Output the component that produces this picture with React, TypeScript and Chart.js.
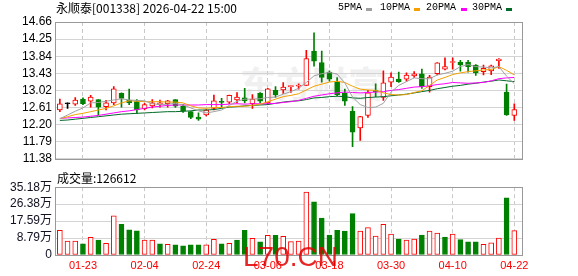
import React, { useEffect, useRef } from 'react';
import { Chart, registerables } from 'chart.js';

Chart.register(...registerables);

// ---------------- data ----------------
const dates = [
  '01-20', '01-21', '01-22', '01-23', '01-26', '01-27', '01-28', '01-29', '01-30',
  '02-02', '02-03', '02-04', '02-05', '02-06', '02-09', '02-10', '02-11', '02-12', '02-13',
  '02-24', '02-25', '02-26', '02-27', '03-02', '03-03', '03-04', '03-05', '03-06',
  '03-09', '03-10', '03-11', '03-12', '03-13', '03-16', '03-17', '03-18', '03-19', '03-20',
  '03-23', '03-24', '03-25', '03-26', '03-27', '03-30', '03-31', '04-01', '04-02', '04-03',
  '04-07', '04-08', '04-09', '04-10', '04-13', '04-14', '04-15', '04-16', '04-17',
  '04-20', '04-21', '04-22',
];
const xTickDates = ['01-23', '02-04', '02-24', '03-06', '03-18', '03-30', '04-10', '04-22'];

const openP = [
  12.55, 12.70, 12.69, 12.81, 12.76, 12.80, 12.63, 12.72, 12.95, 12.78,
  12.75, 12.58, 12.65, 12.68, 12.70, 12.80, 12.64, 12.51, 12.38, 12.43,
  12.59, 12.76, 12.74, 12.79, 12.84, 12.70, 12.95, 12.72, 13.02, 13.03,
  13.11, 13.12, 13.14, 13.96, 13.69, 13.46, 13.22, 12.95, 12.52, 12.12,
  12.42, 13.01, 12.85, 13.22, 13.29, 13.29, 13.37, 13.42, 13.11, 13.42,
  13.53, 13.69, 13.70, 13.70, 13.63, 13.47, 13.49, 13.73, 12.98, 12.42,
];
const highP = [
  12.81, 12.72, 12.85, 12.84, 12.90, 12.80, 12.78, 13.11, 12.96, 13.05,
  12.80, 12.71, 12.80, 12.79, 12.78, 12.80, 12.68, 12.51, 12.48, 12.56,
  12.91, 12.83, 12.91, 12.97, 13.07, 12.92, 12.97, 13.07, 13.11, 13.21,
  13.13, 13.18, 13.98, 14.40, 13.96, 13.49, 13.33, 13.05, 12.63, 12.40,
  13.02, 13.18, 13.49, 13.44, 13.46, 13.44, 13.47, 13.53, 13.38, 13.69,
  13.80, 13.80, 13.74, 13.74, 13.64, 13.63, 13.63, 13.78, 13.17, 12.70,
];
const lowP = [
  12.51, 12.59, 12.66, 12.68, 12.62, 12.43, 12.55, 12.68, 12.62, 12.68,
  12.47, 12.55, 12.60, 12.62, 12.62, 12.61, 12.49, 12.34, 12.30, 12.41,
  12.55, 12.62, 12.70, 12.72, 12.72, 12.59, 12.72, 12.68, 12.85, 12.95,
  12.97, 13.05, 13.14, 13.60, 13.22, 13.24, 12.89, 12.66, 11.67, 11.82,
  12.37, 12.87, 12.78, 13.11, 13.21, 13.24, 13.33, 13.07, 12.98, 13.39,
  13.51, 13.53, 13.48, 13.46, 13.38, 13.39, 13.40, 13.55, 12.42, 12.30,
];
const closeP = [
  12.70, 12.70, 12.79, 12.70, 12.86, 12.62, 12.72, 13.06, 12.83, 12.72,
  12.55, 12.68, 12.72, 12.72, 12.77, 12.64, 12.52, 12.37, 12.33, 12.55,
  12.77, 12.73, 12.90, 12.86, 12.77, 12.81, 12.76, 13.06, 12.91, 13.10,
  13.12, 13.14, 13.78, 13.72, 13.33, 13.29, 12.92, 12.76, 12.02, 12.39,
  12.96, 12.99, 13.20, 13.34, 13.23, 13.39, 13.42, 13.11, 13.34, 13.68,
  13.59, 13.70, 13.63, 13.59, 13.44, 13.55, 13.61, 13.77, 12.43, 12.56,
];

const ma5 = [
  12.34, 12.43, 12.52, 12.60, 12.72, 12.73, 12.76, 12.79, 12.82, 12.79,
  12.78, 12.77, 12.70, 12.68, 12.69, 12.71, 12.67, 12.60, 12.53, 12.48,
  12.51, 12.55, 12.66, 12.76, 12.81, 12.81, 12.82, 12.85, 12.86, 12.93,
  12.99, 13.07, 13.21, 13.37, 13.42, 13.45, 13.41, 13.20, 12.86, 12.68,
  12.61, 12.62, 12.71, 12.98, 13.14, 13.23, 13.32, 13.30, 13.30, 13.39,
  13.43, 13.48, 13.59, 13.64, 13.59, 13.58, 13.56, 13.59, 13.36, 13.18,
];
const ma10 = [
  12.34, 12.39, 12.44, 12.47, 12.51, 12.55, 12.59, 12.65, 12.72, 12.77,
  12.76, 12.75, 12.75, 12.75, 12.74, 12.74, 12.72, 12.65, 12.60, 12.59,
  12.61, 12.61, 12.63, 12.64, 12.64, 12.66, 12.69, 12.75, 12.81, 12.87,
  12.90, 12.94, 13.03, 13.12, 13.17, 13.22, 13.24, 13.21, 13.12, 13.05,
  13.03, 13.02, 12.96, 12.92, 12.91, 12.92, 12.97, 13.01, 13.14, 13.27,
  13.33, 13.40, 13.44, 13.47, 13.49, 13.51, 13.52, 13.59, 13.50, 13.39,
];
const ma20 = [
  12.35, 12.36, 12.37, 12.38, 12.40, 12.42, 12.45, 12.48, 12.51, 12.53,
  12.56, 12.59, 12.62, 12.64, 12.66, 12.67, 12.67, 12.67, 12.67, 12.68,
  12.68, 12.68, 12.69, 12.70, 12.69, 12.70, 12.70, 12.70, 12.71, 12.73,
  12.75, 12.78, 12.83, 12.88, 12.91, 12.94, 12.96, 12.98, 12.97, 12.96,
  12.97, 12.98, 12.99, 13.02, 13.04, 13.07, 13.10, 13.11, 13.13, 13.16,
  13.18, 13.21, 13.20, 13.19, 13.20, 13.21, 13.25, 13.30, 13.32, 13.33,
];
const ma30 = [
  12.30, 12.31, 12.33, 12.35, 12.37, 12.39, 12.41, 12.43, 12.45, 12.46,
  12.47, 12.48, 12.49, 12.50, 12.51, 12.51, 12.52, 12.53, 12.55, 12.55,
  12.56, 12.59, 12.62, 12.63, 12.65, 12.66, 12.67, 12.68, 12.71, 12.74,
  12.76, 12.77, 12.80, 12.84, 12.85, 12.87, 12.88, 12.87, 12.84, 12.83,
  12.85, 12.86, 12.87, 12.89, 12.91, 12.93, 12.96, 12.99, 13.02, 13.06,
  13.09, 13.12, 13.14, 13.17, 13.19, 13.22, 13.24, 13.27, 13.25, 13.23,
];

// volume in 万 (10k)
const volume = [
  12.85, 7.27, 7.27, 5.75, 9.13, 7.78, 6.09, 20.30, 15.90, 13.02,
  12.52, 7.78, 7.78, 5.75, 5.58, 5.24, 4.74, 5.24, 5.24, 5.24,
  8.12, 5.75, 6.09, 7.78, 12.85, 8.63, 6.77, 10.15, 10.15, 9.64,
  6.93, 7.27, 32.64, 27.57, 19.11, 10.32, 12.85, 12.35, 21.48, 12.35,
  14.21, 9.81, 15.90, 10.82, 8.29, 7.78, 8.29, 10.32, 12.35, 11.33,
  9.30, 10.82, 7.95, 6.77, 6.77, 5.58, 6.26, 8.79, 29.60, 12.66,
];
const volUp = [
  'r', 'r', 'r', 'g', 'r', 'g', 'r', 'r', 'g', 'g',
  'g', 'r', 'r', 'g', 'r', 'g', 'g', 'g', 'g', 'r',
  'r', 'g', 'r', 'g', 'g', 'r', 'g', 'r', 'g', 'r',
  'r', 'r', 'r', 'g', 'g', 'g', 'g', 'g', 'g', 'r',
  'r', 'r', 'r', 'r', 'g', 'r', 'r', 'g', 'r', 'r',
  'g', 'r', 'g', 'g', 'g', 'r', 'r', 'r', 'g', 'r',
];

const priceTicks = ['11.38', '11.79', '12.20', '12.61', '13.02', '13.43', '13.84', '14.25', '14.66'];
const volTickValues = [0, 8.795, 17.59, 26.385, 35.18];
const volTickLabels = ['0', '8.79万', '17.59万', '26.38万', '35.18万'];

const legendItems = ['5PMA', '10PMA', '20PMA', '30PMA'];

// ---------------- styles ----------------
const RED = '#ff0000';
const GREEN = '#008000';
const MA_COLORS = ['#a0a0a0', '#f5a000', '#ff00ff', '#006a28'];
const AXIS_FONT = '"Liberation Sans", Arial, "Noto Sans CJK SC", sans-serif';
const CJK_FONT = '"Noto Sans CJK SC", "Liberation Sans", sans-serif';
const FRAME = '#999999';
const HGRID = '#d4d4d4';
const VGRID = '#c8c8c8';

const framePlugin = {
  id: 'frame',
  afterDatasetsDraw(chart: any) {
    const { ctx, chartArea } = chart;
    const l = Math.round(chartArea.left) - 0.5;
    const t = Math.round(chartArea.top) + 0.5;
    const r = Math.round(chartArea.right) + 0.5;
    const b = Math.round(chartArea.bottom) + 0.5;
    ctx.save();
    ctx.strokeStyle = FRAME;
    ctx.lineWidth = 1;
    ctx.strokeRect(l, t, r - l, b - t);
    ctx.restore();
  },
};

const xTickIdx = xTickDates.map((d) => dates.indexOf(d));

export default function App() {
  const priceRef = useRef<HTMLCanvasElement | null>(null);
  const volRef = useRef<HTMLCanvasElement | null>(null);

  useEffect(() => {
    const candleColor = closeP.map((c, i) => (c > openP[i] ? RED : c < openP[i] ? GREEN : '#000000'));
    const maSets = [ma5, ma10, ma20, ma30].map((arr, k) => ({
      type: 'line' as const,
      data: arr.map((v, i) => ({ x: i, y: v })),
      borderColor: MA_COLORS[k],
      borderWidth: 1,
      pointRadius: 0,
      tension: 0,
      order: 0,
    }));

    const price = new Chart(priceRef.current as HTMLCanvasElement, {
      data: {
        datasets: [
          ...maSets,
          {
            type: 'bar' as const,
            data: openP.map((o, i) => ({ x: i, y: [o, closeP[i]] })),
            backgroundColor: candleColor.map((c) => (c === RED ? '#ffffff' : c)),
            borderColor: candleColor,
            borderWidth: 1,
            borderSkipped: false,
            barThickness: 5,
            minBarLength: 1,
            grouped: false,
            order: 1,
          },
          {
            type: 'bar' as const,
            data: lowP.map((l, i) => ({ x: i, y: [l, highP[i]] })),
            backgroundColor: candleColor,
            borderWidth: 0,
            barThickness: 1,
            grouped: false,
            order: 2,
          },
        ] as any,
      },
      options: {
        animation: false,
        responsive: false,
        maintainAspectRatio: false,
        layout: { padding: { left: 0, right: 56, top: 22, bottom: 5 } },
        plugins: { legend: { display: false }, tooltip: { enabled: false } },
        scales: {
          x: {
            type: 'linear',
            min: -0.5,
            max: 60,
            offset: false,
            afterBuildTicks: (s: any) => {
              s.ticks = xTickIdx.map((v) => ({ value: v }));
            },
            afterFit: (s: any) => {
              s.height = 0;
            },
            ticks: { display: false },
            grid: { color: VGRID, drawTicks: false, offset: false },
            border: { display: false, dash: [4, 3] },
          },
          y: {
            type: 'linear',
            min: 11.38,
            max: 14.66,
            afterBuildTicks: (s: any) => {
              s.ticks = priceTicks.map((t) => ({ value: parseFloat(t) }));
            },
            afterFit: (s: any) => {
              s.width = 56;
            },
            ticks: {
              callback: (_v: any, i: number) => priceTicks[i],
              font: { family: AXIS_FONT, size: 12 },
              color: '#000000',
              padding: 4,
              autoSkip: false,
            },
            grid: { color: HGRID, drawTicks: false },
            border: { display: false },
          },
        },
      } as any,
      plugins: [framePlugin],
    });

    const vol = new Chart(volRef.current as HTMLCanvasElement, {
      type: 'bar',
      data: {
        datasets: [
          {
            data: volume.map((v, i) => ({ x: i, y: v })),
            backgroundColor: volUp.map((c) => (c === 'r' ? '#ffffff' : GREEN)),
            borderColor: volUp.map((c) => (c === 'r' ? RED : GREEN)),
            borderWidth: 1,
            borderSkipped: false,
            barThickness: 5,
            grouped: false,
          },
        ] as any,
      },
      options: {
        animation: false,
        responsive: false,
        maintainAspectRatio: false,
        layout: { padding: { left: 0, right: 56, top: 10, bottom: 0 } },
        plugins: { legend: { display: false }, tooltip: { enabled: false } },
        scales: {
          x: {
            type: 'linear',
            min: -0.5,
            max: 60,
            offset: false,
            afterBuildTicks: (s: any) => {
              s.ticks = xTickIdx.map((v) => ({ value: v }));
            },
            afterFit: (s: any) => {
              s.height = 21;
            },
            ticks: {
              callback: (v: any) => dates[Math.round(Number(v))],
              color: RED,
              font: { family: AXIS_FONT, size: 11 },
              padding: 4,
              autoSkip: false,
              maxRotation: 0,
            },
            grid: { color: VGRID, drawTicks: false, offset: false },
            border: { display: false, dash: [4, 3] },
          },
          y: {
            type: 'linear',
            min: 0,
            max: 35.18,
            afterBuildTicks: (s: any) => {
              s.ticks = volTickValues.map((v) => ({ value: v }));
            },
            afterFit: (s: any) => {
              s.width = 56;
            },
            ticks: {
              callback: (_v: any, i: number) => volTickLabels[i],
              font: { family: AXIS_FONT, size: 12 },
              color: '#111122',
              padding: 4,
              autoSkip: false,
            },
            grid: { color: HGRID, drawTicks: false },
            border: { display: false },
          },
        },
      } as any,
      plugins: [framePlugin],
    });

    return () => {
      price.destroy();
      vol.destroy();
    };
  }, []);

  const abs = (extra: React.CSSProperties): React.CSSProperties => ({ position: 'absolute', ...extra });
  const legendX = [338, 380, 426, 472];
  const swatchX = [366, 414, 461, 506];

  return (
    <div style={abs({ left: 0, top: 0, width: 578, height: 276, overflow: 'hidden', background: '#ffffff' })}>
      <div
        style={abs({
          left: 240, top: 64, fontSize: 36, lineHeight: '36px', fontWeight: 700,
          fontFamily: CJK_FONT, color: '#f0f0f0', whiteSpace: 'nowrap', zIndex: 0,
        })}
      >
        东方财富
      </div>
      <canvas ref={priceRef} width={578} height={170} style={abs({ left: 0, top: 0, zIndex: 1 })} />
      <canvas ref={volRef} width={578} height={100} style={abs({ left: 0, top: 176, zIndex: 1 })} />
      <div
        style={abs({
          left: 56, top: 0, height: 16, lineHeight: '16px', fontSize: 12,
          fontFamily: CJK_FONT, color: '#000', whiteSpace: 'nowrap', zIndex: 2,
        })}
      >
        永顺泰[001338] 2026-04-22 15:00
      </div>
      {legendItems.map((t, k) => (
        <React.Fragment key={t}>
          <div
            style={abs({
              left: legendX[k], top: 0, height: 16, lineHeight: '16px', fontSize: 10,
              fontFamily: '"Liberation Mono", "DejaVu Sans Mono", monospace', color: '#000',
              whiteSpace: 'nowrap', zIndex: 2,
            })}
          >
            {t}
          </div>
          <div style={abs({ left: swatchX[k], top: 8, width: 6, height: 3, background: MA_COLORS[k], zIndex: 2 })} />
        </React.Fragment>
      ))}
      <div
        style={abs({
          left: 57, top: 170, height: 16, lineHeight: '16px', fontSize: 12,
          fontFamily: CJK_FONT, color: '#000', whiteSpace: 'nowrap', zIndex: 2,
        })}
      >
        成交量:126612
      </div>
      <div
        style={abs({
          left: 243, top: 243, fontSize: 28, lineHeight: '28px',
          fontFamily: AXIS_FONT, color: 'rgba(225,0,0,0.85)', whiteSpace: 'nowrap', zIndex: 3,
        })}
      >
        L70.CN
      </div>
    </div>
  );
}
